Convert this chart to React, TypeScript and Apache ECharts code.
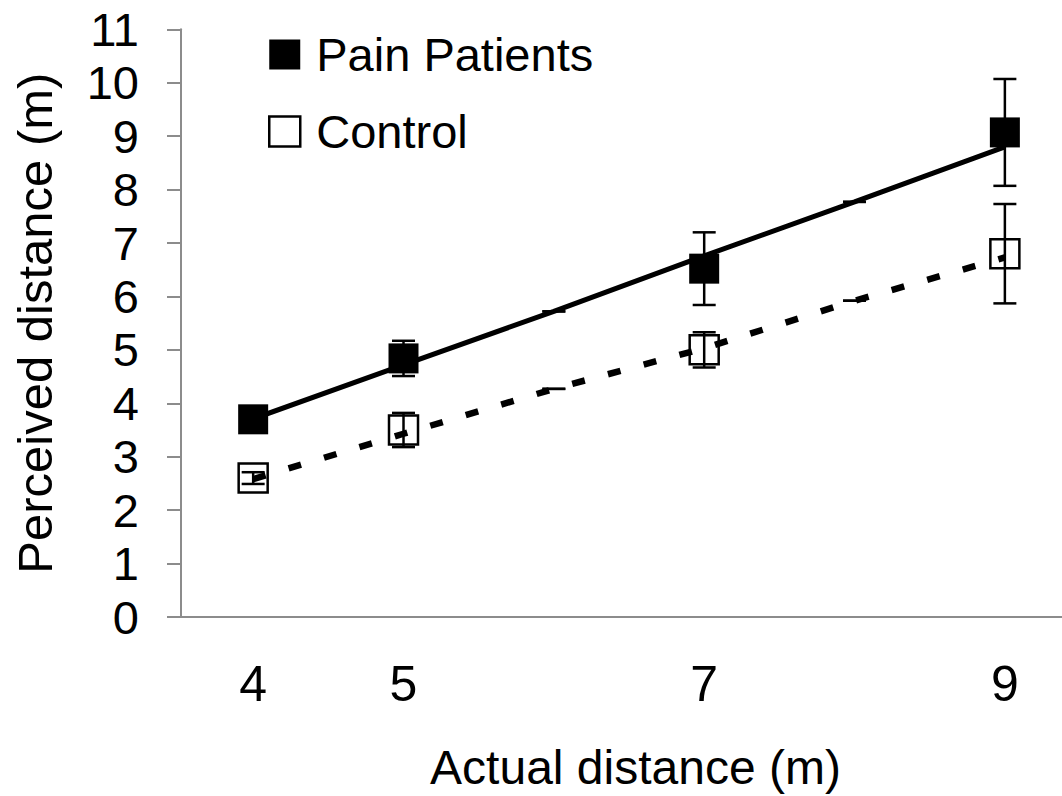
import React, { useEffect, useRef } from "react";
import * as echarts from "echarts";

// Actual distances along the x axis (fitted lines cover every metre)
const lineDistances = [4, 5, 6, 7, 8, 9];
const painLine = [3.71, 4.72, 5.72, 6.76, 7.77, 8.8];
const controlLine = [2.58, 3.43, 4.27, 5.03, 5.92, 6.73];

// Distances that were tested, with means and error half-widths
const testedDistances = [4, 5, 7, 9];
const painMean = [3.7, 4.84, 6.52, 9.07];
const painErr = [0.1, 0.33, 0.68, 1.0];
const controlMean = [2.6, 3.5, 5.0, 6.8];
const controlErr = [0.11, 0.32, 0.33, 0.93];

const xTickLabels = [4, 5, 7, 9];
const yTicks = [0, 1, 2, 3, 4, 5, 6, 7, 8, 9, 10, 11];

const FONT = "'Liberation Sans', Arial, Helvetica, sans-serif";

function errorData(mean: number[], err: number[], line: number[]) {
  const out: number[][] = [];
  testedDistances.forEach((x, i) => out.push([x, mean[i] - err[i], mean[i] + err[i]]));
  lineDistances.forEach((x, i) => {
    if (testedDistances.indexOf(x) < 0) out.push([x, line[i], line[i]]);
  });
  return out;
}

const renderErr = (params: any, api: any) => {
  const x = api.value(0);
  const lo = api.coord([x, api.value(1)]);
  const hi = api.coord([x, api.value(2)]);
  const hw = 11.5;
  const st = { stroke: "#000", lineWidth: 2.5 };
  return {
    type: "group",
    children: [
      { type: "line", shape: { x1: hi[0], y1: hi[1], x2: lo[0], y2: lo[1] }, style: st },
      { type: "line", shape: { x1: hi[0] - hw, y1: hi[1], x2: hi[0] + hw, y2: hi[1] }, style: st },
      { type: "line", shape: { x1: lo[0] - hw, y1: lo[1], x2: lo[0] + hw, y2: lo[1] }, style: st },
    ],
  };
};

export default function App() {
  const ref = useRef<HTMLDivElement>(null);
  useEffect(() => {
    if (!ref.current) return;
    const chart = echarts.init(ref.current, undefined, { renderer: "svg" });
    chart.setOption({
      animation: false,
      backgroundColor: "#fff",
      textStyle: { fontFamily: FONT },
      grid: { left: 181, right: 0, top: 29.3, bottom: 178.3 },
      legend: {
        orient: "vertical",
        left: 268,
        top: 31,
        padding: 0,
        itemWidth: 31,
        itemHeight: 30,
        itemGap: 30,
        selectedMode: false,
        textStyle: { fontSize: 47, color: "#000", fontFamily: FONT, padding: [0, 0, 0, 11] },
        data: [
          { name: "Pain Patients", icon: "rect", itemStyle: { color: "#000", borderWidth: 0 } },
          {
            name: "Control",
            icon: "rect",
            itemStyle: { color: "#fff", borderColor: "#000", borderWidth: 2.5 },
          },
        ],
      },
      xAxis: {
        type: "value",
        min: 3.52,
        max: 9.38,
        name: "Actual distance (m)",
        nameLocation: "middle",
        nameGap: 126,
        nameTextStyle: { fontSize: 48, color: "#000", fontFamily: FONT, padding: [0, 0, 0, 28] },
        axisLine: { show: true, lineStyle: { color: "#8c8c8c", width: 2 } },
        axisTick: { show: false },
        splitLine: { show: false },
        axisLabel: {
          customValues: xTickLabels,
          fontSize: 50,
          color: "#000",
          margin: 42,
          fontFamily: FONT,
        },
      },
      yAxis: {
        type: "value",
        min: yTicks[0],
        max: yTicks[yTicks.length - 1],
        interval: 1,
        name: "Perceived distance (m)",
        nameLocation: "middle",
        nameGap: 122,
        nameTextStyle: { fontSize: 49, color: "#000", fontFamily: FONT },
        axisLine: { show: true, lineStyle: { color: "#8c8c8c", width: 2 } },
        axisTick: { show: true, length: 14, lineStyle: { color: "#8c8c8c", width: 2 } },
        splitLine: { show: false },
        axisLabel: { fontSize: 47, color: "#000", margin: 42, fontFamily: FONT },
      },
      series: [
        {
          name: "Pain fit",
          type: "line",
          data: lineDistances.map((x, i) => [x, painLine[i]]),
          symbol: "none",
          lineStyle: { color: "#000", width: 5 },
          z: 2,
        },
        {
          name: "Control fit",
          type: "line",
          data: lineDistances.map((x, i) => [x, controlLine[i]]),
          symbol: "none",
          lineStyle: { color: "#000", width: 6.5, type: [13, 24], cap: "butt" },
          z: 2,
        },
        {
          name: "Pain Patients",
          type: "scatter",
          data: testedDistances.map((x, i) => [x, painMean[i]]),
          symbol: "rect",
          symbolSize: 30,
          itemStyle: { color: "#000", opacity: 1 },
          z: 3,
        },
        {
          name: "Control",
          type: "scatter",
          data: testedDistances.map((x, i) => [x, controlMean[i]]),
          symbol: "rect",
          symbolSize: 29,
          itemStyle: { color: "rgba(0,0,0,0)", borderColor: "#000", borderWidth: 2.5, opacity: 1 },
          z: 3,
        },
        {
          name: "Pain err",
          type: "custom",
          renderItem: renderErr,
          data: errorData(painMean, painErr, painLine),
          encode: { x: 0, y: [1, 2] },
          z: 4,
        },
        {
          name: "Control err",
          type: "custom",
          renderItem: renderErr,
          data: errorData(controlMean, controlErr, controlLine),
          encode: { x: 0, y: [1, 2] },
          z: 4,
        },
      ],
    });
    return () => chart.dispose();
  }, []);
  return (
    <div
      ref={ref}
      style={{ position: "fixed", left: 0, top: 0, width: 1062, height: 796, background: "#fff" }}
    />
  );
}
